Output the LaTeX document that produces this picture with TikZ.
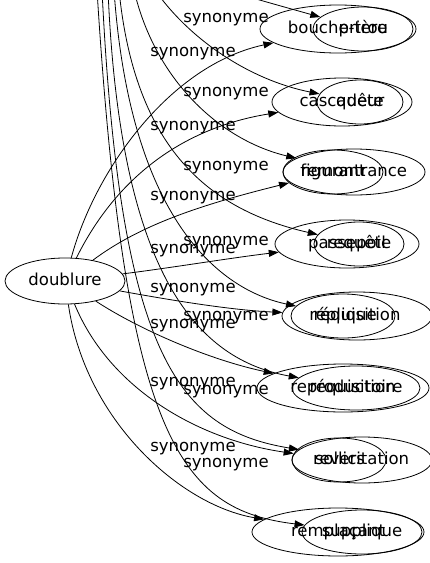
\documentclass[tikz,border=0pt]{standalone}
\usepackage{fontspec}
\setmainfont{DejaVu Sans}
\usetikzlibrary{shapes.geometric,arrows.meta}

\begin{document}
\begin{tikzpicture}[x=1pt,y=-1pt,
  every node/.style={font=\fontsize{16.5}{18}\selectfont,inner sep=0pt,
    text height=12pt,text depth=3.5pt},
  word/.style={draw,ellipse,line width=0.8pt},
  syn/.style={line width=0.8pt,-{Triangle[length=10pt,width=7pt]}}]
\useasboundingbox (0,0) rectangle (430,563);
% centre word
\node[word,minimum width=120pt,minimum height=46pt] (doublure) at (65,281) {doublure};
% right column, two words per row
\node[word,minimum width=156pt,minimum height=48pt] (boucheTrou) at (338,29) {\makebox[0pt]{bouche-trou}};
\node[word,minimum width=100pt,minimum height=44pt] (priere) at (363,29) {\makebox[0pt]{prière}};
\node[word,minimum width=140pt,minimum height=48pt] (cascadeur) at (342,102) {\makebox[0pt]{cascadeur}};
\node[word,minimum width=86pt,minimum height=44pt] (quete) at (360,102) {\makebox[0pt]{quête}};
\node[word,minimum width=100pt,minimum height=44pt] (figurant) at (333,172) {\makebox[0pt]{figurant}};
\node[word,minimum width=142pt,minimum height=46pt] (remontrance) at (354,172) {\makebox[0pt]{remontrance}};
\node[word,minimum width=144pt,minimum height=48pt] (passepoil) at (347,244) {\makebox[0pt]{passepoil}};
\node[word,minimum width=90pt,minimum height=44pt] (requete) at (359,244) {\makebox[0pt]{requête}};
\node[word,minimum width=150pt,minimum height=48pt] (requisition) at (357,316) {\makebox[0pt]{réquisition}};
\node[word,minimum width=104pt,minimum height=44pt] (replique) at (343,316) {\makebox[0pt]{réplique}};
\node[word,minimum width=172pt,minimum height=48pt] (reproduction) at (343,388) {\makebox[0pt]{reproduction}};
\node[word,minimum width=128pt,minimum height=44pt] (requisitoire) at (356,388) {\makebox[0pt]{réquisitoire}};
\node[word,minimum width=94pt,minimum height=44pt] (revers) at (339,460) {\makebox[0pt]{revers}};
\node[word,minimum width=140pt,minimum height=46pt] (sollicitation) at (362,460) {\makebox[0pt]{sollicitation}};
\node[word,minimum width=172pt,minimum height=48pt] (remplacant) at (338,532) {\makebox[0pt]{remplaçant}};
\node[word,minimum width=120pt,minimum height=44pt] (supplique) at (362,532) {\makebox[0pt]{supplique}};

% edges of doublure
\draw[syn] (doublure) .. controls (95,170) and (170,65) .. (boucheTrou);
\draw[syn] (doublure) .. controls (110,190) and (170,130) .. (cascadeur);
\draw[syn] (doublure) .. controls (140,225) and (200,205) .. (figurant);
\draw[syn] (doublure) .. controls (170,268) and (230,258) .. (passepoil);
\draw[syn] (doublure) .. controls (170,300) and (230,310) .. (requisition);
\draw[syn] (doublure) .. controls (140,330) and (210,360) .. (reproduction);
\draw[syn] (doublure) .. controls (110,390) and (200,440) .. (revers);
\draw[syn] (doublure) .. controls (85,420) and (180,505) .. (remplacant);

% edges coming in from above
\coordinate (t1) at (225,-10);
\coordinate (t2) at (155,-10);
\coordinate (t3) at (134,-10);
\coordinate (t4) at (119,-10);
\coordinate (t5) at (114,-10);
\coordinate (t6) at (108,-10);
\coordinate (t7) at (102,-10);
\coordinate (t8) at (97,-10);
\draw[syn] (t1) .. controls (270,3) .. (priere);
\draw[syn] (t2) .. controls (190,40) and (250,80) .. (quete);
\draw[syn] (t3) .. controls (155,80) and (220,140) .. (remontrance);
\draw[syn] (t4) .. controls (135,150) and (210,210) .. (requete);
\draw[syn] (t5) .. controls (130,220) and (220,290) .. (replique);
\draw[syn] (t6) .. controls (120,280) and (200,360) .. (requisitoire);
\draw[syn] (t7) .. controls (120,360) and (180,430) .. (sollicitation);
\draw[syn] (t8) .. controls (125,440) and (180,510) .. (supplique);

% labels
\node (s1) at (193,52) {synonyme};
\node (s2) at (193,126) {synonyme};
\node (s3) at (193,196) {synonyme};
\node (s4) at (193,249) {synonyme};
\node (s5) at (193,288) {synonyme};
\node (s6) at (193,324) {synonyme};
\node (s7) at (193,382) {synonyme};
\node (s8) at (193,447) {synonyme};
\node (s9) at (226,18) {synonyme};
\node (s10) at (226,92) {synonyme};
\node (s11) at (226,166) {synonyme};
\node (s12) at (226,241) {synonyme};
\node (s13) at (226,316) {synonyme};
\node (s14) at (226,390) {synonyme};
\node (s15) at (226,463) {synonyme};
\end{tikzpicture}
\end{document}
